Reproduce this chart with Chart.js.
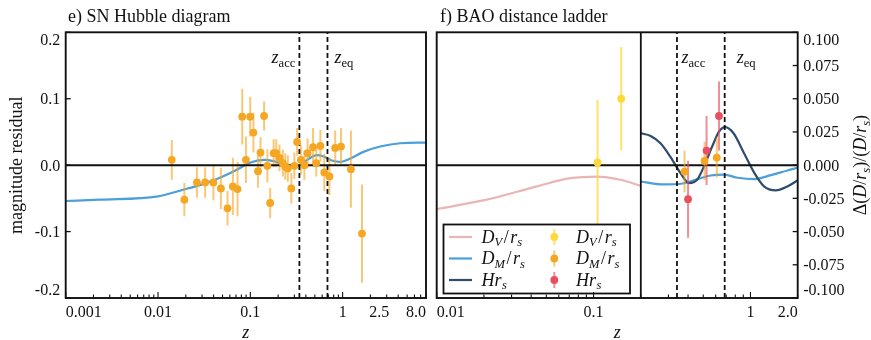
<!DOCTYPE html>
<html><head><meta charset="utf-8">
<script src="https://cdn.jsdelivr.net/npm/chart.js@4/dist/chart.umd.min.js"></script>
<style>
html,body{margin:0;padding:0;background:#fff;}
#wrap{position:relative;width:871px;height:340px;overflow:hidden;background:#fff;}
canvas{position:absolute;left:0;top:0;}
</style></head><body>
<div id="wrap"><canvas id="c1" width="871" height="340"></canvas><canvas id="c2" width="871" height="340"></canvas></div>
<script>
// ---------------- DATA ----------------
// e) SN Hubble diagram : binned SN residuals
const snZ   = [0.0141,0.0193,0.0264,0.0324,0.0398,0.048,0.0566,0.0647,0.0727,0.0817,0.0896,0.0997,0.108,0.121,0.129,0.141,0.153,0.164,0.179,0.191,0.207,0.225,0.239,0.255,0.278,0.300,0.321,0.353,0.385,0.417,0.478,0.518,0.574,0.633,0.72,0.83,0.96,1.23,1.62];
const snRes = [0.008,-0.052,-0.026,-0.026,-0.026,-0.035,-0.065,-0.032,-0.036,0.073,0.008,0.073,0.049,-0.009,0.019,0.074,-0.001,-0.057,0.018,0.018,0.011,0.003,-0.002,-0.005,-0.035,-0.001,0.035,0.008,0.000,0.018,0.027,0.003,0.029,-0.011,-0.017,0.026,0.028,-0.006,-0.103];
const snErr = [0.030,0.025,0.023,0.023,0.027,0.031,0.026,0.043,0.041,0.042,0.035,0.030,0.030,0.025,0.023,0.022,0.025,0.023,0.021,0.021,0.020,0.020,0.020,0.020,0.023,0.020,0.021,0.022,0.022,0.022,0.029,0.020,0.024,0.028,0.028,0.026,0.028,0.058,0.074];
// model curve (left panel)
const snModelZ = [0.001,0.00236,0.01,0.0187,0.0284,0.0434,0.0715,0.1,0.139,0.179,0.229,0.294,0.348,0.424,0.527,0.622,0.764,0.94,1.21,1.68,2.55,4.2,8.0];
const snModel  = [-0.054,-0.052,-0.047,-0.037,-0.030,-0.021,-0.007,0.004,0.008,0.006,0.001,-0.002,0.000,0.009,0.015,0.013,0.007,0.005,0.010,0.020,0.028,0.033,0.034];

// f) BAO distance ladder : measurements
const dvZ = [0.106, 0.15];   const dvVal = [0.002, 0.050];   const dvErr = [0.047, 0.039];
const dmZ = [0.38, 0.51, 0.61]; const dmVal = [-0.0048, 0.0032, 0.0057]; const dmErr = [0.0156, 0.0144, 0.015];
const hZ  = [0.40, 0.525, 0.63]; const hVal = [-0.0256, 0.011, 0.037];   const hErr = [0.029, 0.026, 0.026];
// model curves (right panel)
const dvCurveZ = [0.01, 0.0209, 0.0435, 0.071, 0.105, 0.148, 0.2];
const dvCurve  = [-0.033, -0.026, -0.016, -0.0098, -0.0086, -0.011, -0.0156];
const dmCurveZ = [0.2, 0.27, 0.37, 0.46, 0.56, 0.68, 0.83, 1.06, 1.35, 1.72, 2.0];
const dmCurve  = [-0.0123, -0.0145, -0.0138, -0.0105, -0.0078, -0.0072, -0.0095, -0.0105, -0.0075, -0.004, -0.002];
const hCurveZ  = [0.2, 0.231, 0.267, 0.308, 0.358, 0.405, 0.457, 0.505, 0.57, 0.63, 0.69, 0.78, 0.91, 1.06, 1.22, 1.45, 1.72, 2.0];
const hCurve   = [0.024, 0.022, 0.0165, 0.0065, -0.006, -0.0135, -0.011, -0.001, 0.014, 0.0253, 0.0286, 0.024, 0.009, -0.006, -0.016, -0.019, -0.016, -0.0115];

// reference redshifts
const zAcc = 0.34, zEq = 0.685, zSplit = 0.2;

// axes / ticks
const leftXRange = [0.001, 8.0];
const leftXTickVals = [0.001, 0.01, 0.1, 1, 2.5, 8.0];
const leftXTickLabels = ['0.001', '0.01', '0.1', '1', '2.5', '8.0'];
const leftYRange = [-0.2, 0.2];
const leftYTickVals = [0.2, 0.1, 0.0, -0.1, -0.2];
const leftYTickLabels = ['0.2', '0.1', '0.0', '-0.1', '-0.2'];
const rightXRange = [0.01, 2.0];
const rightXTickVals = [0.01, 0.1, 1, 2.0];
const rightXTickLabels = ['0.01', '0.1', '1', '2.0'];
const rightYRange = [-0.1, 0.1];
const rightYTickVals = [0.1, 0.075, 0.05, 0.025, 0.0, -0.025, -0.05, -0.075, -0.1];
const rightYTickLabels = ['0.100', '0.075', '0.050', '0.025', '0.000', '-0.025', '-0.050', '-0.075', '-0.100'];

// ---------------- STYLE ----------------
const INK = '#111';
const C_ORANGE = '#F5A623', C_ORANGE_E = 'rgba(245,166,35,0.62)';
const C_YELLOW = '#FFD83A', C_YELLOW_E = 'rgba(255,216,58,0.75)';
const C_RED = '#E8505F', C_RED_E = 'rgba(232,80,95,0.65)';
const C_PINK = '#E9B5B5', C_LBLUE = '#4C9FD9', C_DBLUE = '#2F4B6E';
const SERIF = '"Liberation Serif","Times New Roman",serif';
function font(size, it) { return (it ? 'italic ' : '') + size + 'px ' + SERIF; }

function pts(xs, ys) { return xs.map((x, i) => ({x: x, y: ys[i]})); }
function errSegs(xs, ys, es) {
  const d = [];
  xs.forEach((x, i) => { d.push({x: x, y: ys[i] - es[i]}, {x: x, y: ys[i] + es[i]}, {x: x, y: null}); });
  return d;
}
function vline(x, yr) { return [{x: x, y: yr[0]}, {x: x, y: yr[1]}]; }
function hline(y, xr) { return [{x: xr[0], y: y}, {x: xr[1], y: y}]; }

function markerDS(data, color) {
  return {data: data, showLine: false, pointRadius: 3.9, pointBackgroundColor: color, pointBorderWidth: 0, pointHoverRadius: 3.9};
}
function lineDS(data, color, width, dash, smooth) {
  const d = {data: data, showLine: true, borderColor: color, borderWidth: width, pointRadius: 0, pointHoverRadius: 0, fill: false, spanGaps: false};
  if (dash) d.borderDash = dash;
  if (smooth) d.cubicInterpolationMode = 'monotone';
  return d;
}

// ---------------- rich text ----------------
function richWidth(ctx, parts, size) {
  let w = 0;
  for (const p of parts) { ctx.font = font(p.sub ? size * 0.7 : size, p.it); w += ctx.measureText(p.t).width + (p.gap || 0); }
  return w;
}
function drawRich(ctx, parts, x, y, size, align) {
  const w = richWidth(ctx, parts, size);
  let cx = align === 'center' ? x - w / 2 : (align === 'right' ? x - w : x);
  ctx.textAlign = 'left'; ctx.textBaseline = 'alphabetic';
  for (const p of parts) {
    const s = p.sub ? size * 0.7 : size;
    ctx.font = font(s, p.it);
    ctx.fillText(p.t, cx, y + (p.sub ? size * 0.22 : 0));
    cx += ctx.measureText(p.t).width + (p.gap || 0);
  }
}
const Z_ACC = [{t: 'z', it: true}, {t: 'acc', sub: true}];
const Z_EQ = [{t: 'z', it: true}, {t: 'eq', sub: true}];
const L_DV = [{t: 'D', it: true}, {t: 'V', it: true, sub: true, gap: 1.5}, {t: '/', gap: 1.5}, {t: 'r', it: true}, {t: 's', it: true, sub: true}];
const L_DM = [{t: 'D', it: true}, {t: 'M', it: true, sub: true, gap: 1.5}, {t: '/', gap: 1.5}, {t: 'r', it: true}, {t: 's', it: true, sub: true}];
const L_H = [{t: 'Hr', it: true, gap: 0.5}, {t: 's', it: true, sub: true}];
const Y_RIGHT = [{t: 'Δ('}, {t: 'D', it: true}, {t: '/'}, {t: 'r', it: true}, {t: 's', it: true, sub: true}, {t: ')/('}, {t: 'D', it: true}, {t: '/'}, {t: 'r', it: true}, {t: 's', it: true, sub: true}, {t: ')'}];

const TICK = 16;
const cfgs = {
  c1: {
    title: 'e) SN Hubble diagram', titleX: 68,
    xVals: leftXTickVals, xLabels: leftXTickLabels,
    yVals: leftYTickVals, yLabels: leftYTickLabels, ySide: 'left',
    yTitle: 'magnitude residual',
    zMarks: [{z: zAcc, parts: Z_ACC, align: 'right', dx: -4}, {z: zEq, parts: Z_EQ, align: 'left', dx: 7}]
  },
  c2: {
    title: 'f) BAO distance ladder', titleX: 440,
    xVals: rightXTickVals, xLabels: rightXTickLabels,
    yVals: rightYTickVals, yLabels: rightYTickLabels, ySide: 'right',
    yTitleRich: Y_RIGHT,
    zMarks: [{z: zAcc, parts: Z_ACC, align: 'left', dx: 4.5}, {z: zEq, parts: Z_EQ, align: 'left', dx: 12}],
    legend: true
  }
};

function seg(ctx, x1, y1, x2, y2) { ctx.beginPath(); ctx.moveTo(x1, y1); ctx.lineTo(x2, y2); ctx.stroke(); }

function drawLegend(ctx) {
  const bx = 443.5, by = 224.5, bw = 186.5, bh = 69;
  ctx.fillStyle = '#fff'; ctx.fillRect(bx, by, bw, bh);
  ctx.strokeStyle = INK; ctx.lineWidth = 1.8; ctx.strokeRect(bx, by, bw, bh);
  const rows = [237, 258.5, 280];
  const lineCols = [C_PINK, C_LBLUE, C_DBLUE];
  const mk = [[C_YELLOW, C_YELLOW_E], [C_ORANGE, C_ORANGE_E], [C_RED, C_RED_E]];
  const labs = [L_DV, L_DM, L_H];
  rows.forEach((y, i) => {
    ctx.strokeStyle = lineCols[i]; ctx.lineWidth = 2.2; seg(ctx, 449, y, 472, y);
    ctx.strokeStyle = mk[i][1]; ctx.lineWidth = 2; seg(ctx, 554.3, y - 8, 554.3, y + 8);
    ctx.fillStyle = mk[i][0]; ctx.beginPath(); ctx.arc(554.3, y, 3.9, 0, Math.PI * 2); ctx.fill();
    ctx.fillStyle = INK;
    drawRich(ctx, labs[i], 481.5, y + 5.5, 18, 'left');
    drawRich(ctx, labs[i], 576, y + 5.5, 18, 'left');
  });
}

const deco = {
  id: 'deco',
  afterDraw(chart) {
    const c = cfgs[chart.canvas.id]; if (!c) return;
    const ctx = chart.ctx, a = chart.chartArea, xs = chart.scales.x, ys = chart.scales.y;
    ctx.save();
    if (c.legend) drawLegend(ctx);
    ctx.strokeStyle = INK; ctx.fillStyle = INK;
    // frame
    ctx.lineWidth = 1.9;
    ctx.strokeRect(a.left, a.top, a.right - a.left, a.bottom - a.top);
    // x ticks (log, major + minor, inward)
    ctx.lineWidth = 1.1;
    const lo = Math.floor(Math.log10(xs.min)) , hi = Math.ceil(Math.log10(xs.max));
    for (let n = lo; n <= hi; n++) for (let k = 1; k <= 9; k++) {
      const v = k * Math.pow(10, n);
      if (v < xs.min * 0.9999 || v > xs.max * 1.0001) continue;
      const px = xs.getPixelForValue(v);
      seg(ctx, px, a.bottom, px, a.bottom - (k === 1 ? 6 : 3.5));
    }
    // x labels
    ctx.font = font(TICK); ctx.textBaseline = 'alphabetic';
    c.xVals.forEach((v, i) => {
      const px = xs.getPixelForValue(v);
      let al = 'center';
      if (Math.abs(v / xs.min - 1) < 1e-6) al = 'left';
      else if (Math.abs(v / xs.max - 1) < 1e-6) al = 'right';
      ctx.textAlign = al; ctx.fillText(c.xLabels[i], px, 317);
    });
    // y ticks + labels
    ctx.lineWidth = 1.3;
    c.yVals.forEach((v, i) => {
      const py = ys.getPixelForValue(v);
      if (c.ySide === 'left') seg(ctx, a.left, py, a.left + 5, py);
      else seg(ctx, a.right, py, a.right - 5, py);
      let base = py + 5.5;
      if (Math.abs(v - ys.max) < 1e-9) base = a.top + 12.5;
      else if (Math.abs(v - ys.min) < 1e-9) base = a.bottom - 3;
      ctx.font = font(TICK);
      if (c.ySide === 'left') { ctx.textAlign = 'right'; ctx.fillText(c.yLabels[i], a.left - 5.5, base); }
      else { ctx.textAlign = 'left'; ctx.fillText(c.yLabels[i], a.right + 5.5, base); }
    });
    // panel title
    ctx.font = font(18); ctx.textAlign = 'left'; ctx.fillText(c.title, c.titleX, 21.7);
    // x title
    drawRich(ctx, [{t: 'z', it: true}], (a.left + a.right) / 2, 338, 18, 'center');
    // y title
    if (c.yTitle) {
      ctx.save(); ctx.translate(21.5, (a.top + a.bottom) / 2); ctx.rotate(-Math.PI / 2);
      ctx.font = font(18); ctx.textAlign = 'center'; ctx.textBaseline = 'alphabetic';
      ctx.fillText(c.yTitle, 0, 0); ctx.restore();
    }
    if (c.yTitleRich) {
      ctx.save(); ctx.translate(866, (a.top + a.bottom) / 2); ctx.rotate(-Math.PI / 2);
      drawRich(ctx, c.yTitleRich, 0, 0, 18, 'center'); ctx.restore();
    }
    // z markers text
    c.zMarks.forEach(m => { drawRich(ctx, m.parts, xs.getPixelForValue(m.z) + m.dx, 63, 18, m.align); });
    ctx.restore();
  }
};

function baseOptions(pad, xr, yr) {
  return {
    responsive: false, animation: false, devicePixelRatio: 1, events: [],
    layout: {padding: pad},
    scales: {
      x: {type: 'logarithmic', min: xr[0], max: xr[1], display: false},
      y: {type: 'linear', min: yr[0], max: yr[1], display: false}
    },
    plugins: {legend: {display: false}, tooltip: {enabled: false}}
  };
}

// ---------------- LEFT CHART ----------------
new Chart(document.getElementById('c1'), {
  type: 'scatter',
  data: {datasets: [
    markerDS(pts(snZ, snRes), C_ORANGE),
    lineDS(vline(zAcc, leftYRange), INK, 1.8, [5, 3]),
    lineDS(vline(zEq, leftYRange), INK, 1.8, [5, 3]),
    lineDS(hline(0, leftXRange), INK, 2),
    lineDS(errSegs(snZ, snRes, snErr), C_ORANGE_E, 2),
    lineDS(pts(snModelZ, snModel), C_LBLUE, 2.2, null, true)
  ]},
  options: baseOptions({left: 65.7, right: 445, top: 32.3, bottom: 42}, leftXRange, leftYRange),
  plugins: [deco]
});

// ---------------- RIGHT CHART ----------------
new Chart(document.getElementById('c2'), {
  type: 'scatter',
  data: {datasets: [
    markerDS(pts(hZ, hVal), C_RED),
    markerDS(pts(dmZ, dmVal), C_ORANGE),
    markerDS(pts(dvZ, dvVal), C_YELLOW),
    lineDS(errSegs(hZ, hVal, hErr), C_RED_E, 2),
    lineDS(errSegs(dmZ, dmVal, dmErr), C_ORANGE_E, 2),
    lineDS(errSegs(dvZ, dvVal, dvErr), C_YELLOW_E, 2),
    lineDS(vline(zAcc, rightYRange), INK, 1.8, [5, 3]),
    lineDS(vline(zEq, rightYRange), INK, 1.8, [5, 3]),
    lineDS(vline(zSplit, rightYRange), INK, 1.8),
    lineDS(hline(0, rightXRange), INK, 2),
    lineDS(pts(hCurveZ, hCurve), C_DBLUE, 2.2, null, true),
    lineDS(pts(dmCurveZ, dmCurve), C_LBLUE, 2.2, null, true),
    lineDS(pts(dvCurveZ, dvCurve), C_PINK, 2.2, null, true)
  ]},
  options: baseOptions({left: 436.7, right: 73.3, top: 32.3, bottom: 42}, rightXRange, rightYRange),
  plugins: [deco]
});
</script>
</body></html>
